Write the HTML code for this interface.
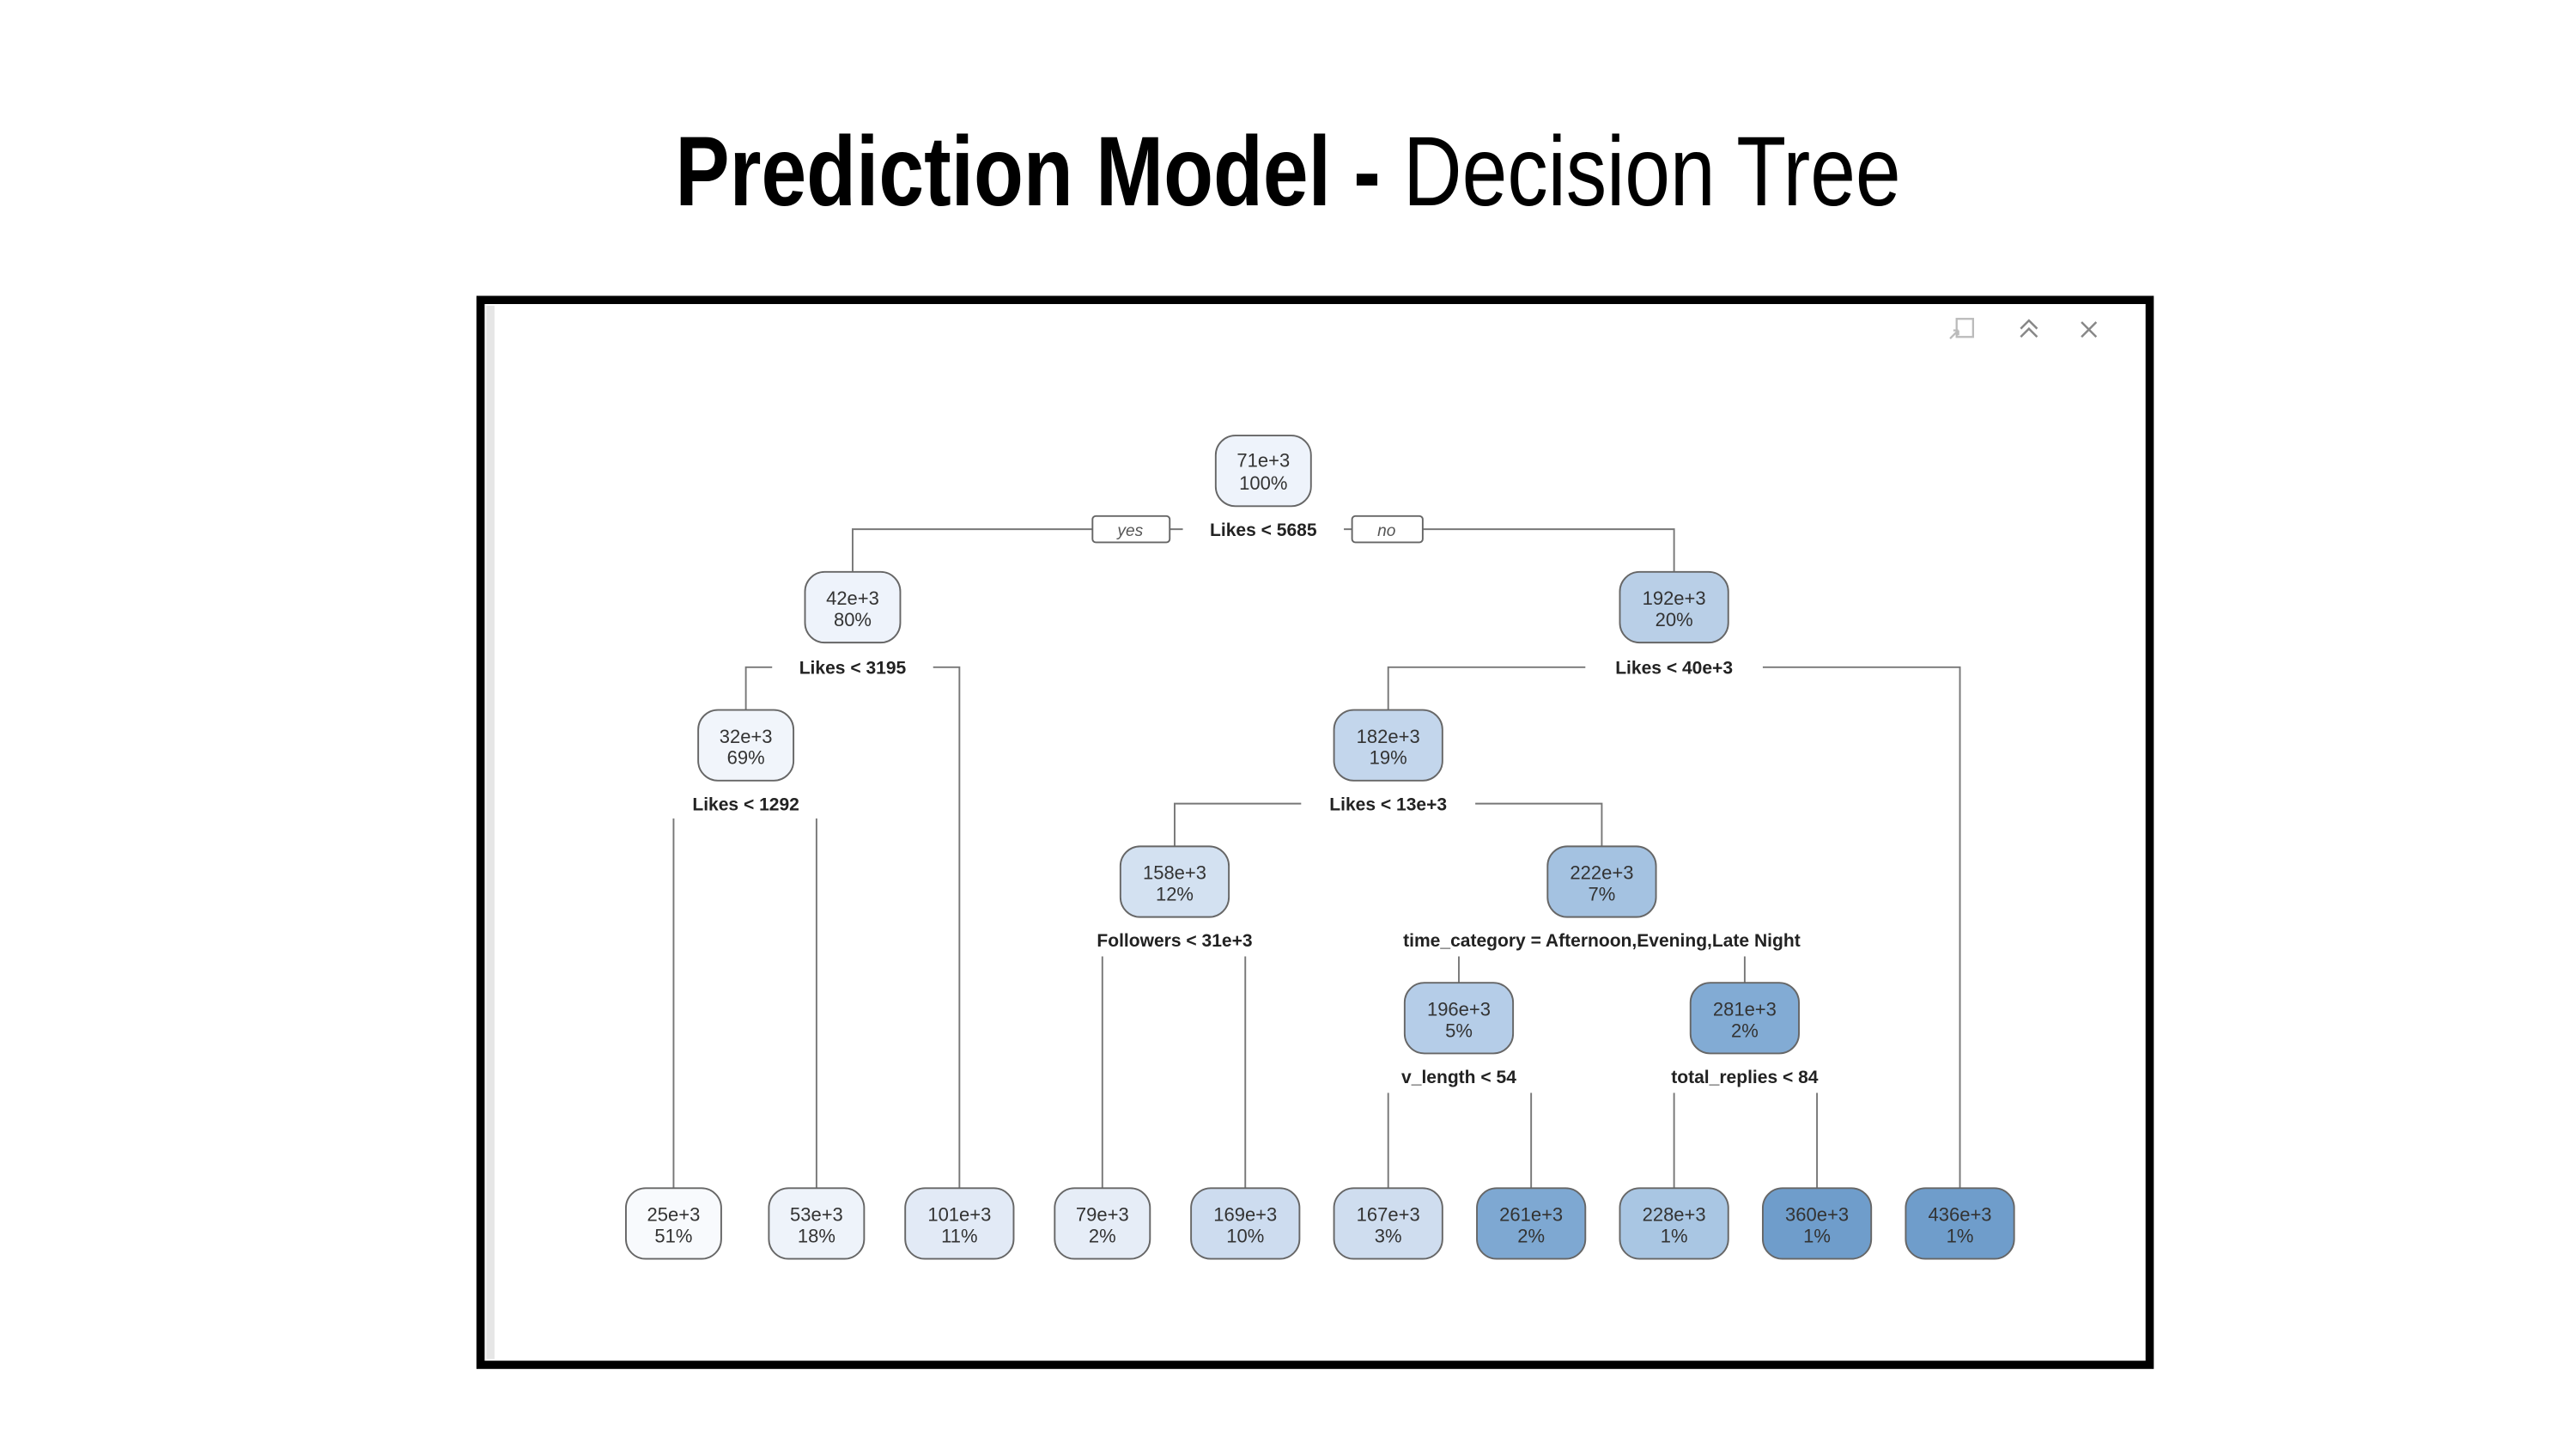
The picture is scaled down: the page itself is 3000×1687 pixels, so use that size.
<!DOCTYPE html>
<html><head><meta charset="utf-8"><style>
html,body{margin:0;padding:0;background:#fff;}
svg{display:block}
.t{font-family:"Liberation Sans Narrow","Liberation Sans",sans-serif;font-size:11.5px;fill:#333;text-anchor:middle}
.b{font-family:"Liberation Sans Narrow","Liberation Sans",sans-serif;font-size:11px;font-weight:bold;fill:#222;text-anchor:middle}
.n{stroke:#666;stroke-width:1}
.l{stroke:#777;stroke-width:1;fill:none}
</style></head><body>
<svg width="3000" height="1687" viewBox="0 0 1568 881.7" xmlns="http://www.w3.org/2000/svg">
<text x="784" y="125" style="font-family:'Liberation Sans Narrow','Liberation Sans',sans-serif;font-size:60px" text-anchor="middle" textLength="746" lengthAdjust="spacingAndGlyphs"><tspan font-weight="bold">Prediction Model - </tspan><tspan>Decision Tree</tspan></text>
<rect x="292.5" y="182.5" width="1016" height="648" fill="#fff" stroke="#000" stroke-width="5"/>
<rect x="296" y="186" width="5" height="641" fill="#e6e6e6"/>
<!-- icons -->
<g stroke="#bbb" fill="none" stroke-width="1.2"><rect x="1191" y="194" width="10" height="11"/><path d="M1187 206 l5 -5 M1192 201 h-3 M1192 201 v3"/></g>
<g stroke="#888" fill="none" stroke-width="1.3"><path d="M1230 200 l5-5 l5 5 M1230 205 l5-5 l5 5"/><path d="M1267 196 l9 9 M1276 196 l-9 9"/></g>
<!-- lines -->
<g class="l">
<path d="M665 322 H519 V348 M712 322 H720 M818 322 H823 M866 322 H1019 V348"/>
<path d="M470 406 H454 V432 M568 406 H584 V723"/>
<path d="M965 406 H845 V432 M1073 406 H1193 V723"/>
<path d="M410 498 V723 M497 498 V723"/>
<path d="M792 489 H715 V515 M898 489 H975 V515"/>
<path d="M671 582 V723 M758 582 V723"/>
<path d="M888 582 V598 M1062 582 V598"/>
<path d="M845 665 V723 M932 665 V723 M1019 665 V723 M1106 665 V723"/>
</g>
<rect x="665" y="314" width="47" height="16" rx="2" fill="#fff" stroke="#666"/>
<text x="688" y="326" class="t" style="font-style:italic;font-size:10px;fill:#555">yes</text>
<rect x="823" y="314" width="43" height="16" rx="2" fill="#fff" stroke="#666"/>
<text x="844" y="326" class="t" style="font-style:italic;font-size:10px;fill:#555">no</text>
<!-- nodes -->
<g class="n">
<rect x="740" y="265" width="58" height="43" rx="12" fill="#eef3fb"/>
<rect x="490" y="348" width="58" height="43" rx="12" fill="#eef3fb"/>
<rect x="986" y="348" width="66" height="43" rx="12" fill="#b9cfe7"/>
<rect x="425" y="432" width="58" height="43" rx="12" fill="#f1f5fb"/>
<rect x="812" y="432" width="66" height="43" rx="12" fill="#c3d6ec"/>
<rect x="682" y="515" width="66" height="43" rx="12" fill="#d3e1f1"/>
<rect x="942" y="515" width="66" height="43" rx="12" fill="#a4c2e1"/>
<rect x="855" y="598" width="66" height="43" rx="12" fill="#b5cde8"/>
<rect x="1029" y="598" width="66" height="43" rx="12" fill="#82abd4"/>
<rect x="381" y="723" width="58" height="43" rx="12" fill="#f8fafd"/>
<rect x="468" y="723" width="58" height="43" rx="12" fill="#eef3fa"/>
<rect x="551" y="723" width="66" height="43" rx="12" fill="#e2eaf6"/>
<rect x="642" y="723" width="58" height="43" rx="12" fill="#e6edf7"/>
<rect x="725" y="723" width="66" height="43" rx="12" fill="#cddcef"/>
<rect x="812" y="723" width="66" height="43" rx="12" fill="#cfddef"/>
<rect x="899" y="723" width="66" height="43" rx="12" fill="#7ea8d2"/>
<rect x="986" y="723" width="66" height="43" rx="12" fill="#a9c6e3"/>
<rect x="1073" y="723" width="66" height="43" rx="12" fill="#6f9dcb"/>
<rect x="1160" y="723" width="66" height="43" rx="12" fill="#6f9dcb"/>
</g>
<g class="t">
<text x="769" y="284">71e+3</text><text x="769" y="298">100%</text>
<text x="519" y="368">42e+3</text><text x="519" y="381">80%</text>
<text x="1019" y="368">192e+3</text><text x="1019" y="381">20%</text>
<text x="454" y="452">32e+3</text><text x="454" y="465">69%</text>
<text x="845" y="452">182e+3</text><text x="845" y="465">19%</text>
<text x="715" y="535">158e+3</text><text x="715" y="548">12%</text>
<text x="975" y="535">222e+3</text><text x="975" y="548">7%</text>
<text x="888" y="618">196e+3</text><text x="888" y="631">5%</text>
<text x="1062" y="618">281e+3</text><text x="1062" y="631">2%</text>
<text x="410" y="743">25e+3</text><text x="410" y="756">51%</text>
<text x="497" y="743">53e+3</text><text x="497" y="756">18%</text>
<text x="584" y="743">101e+3</text><text x="584" y="756">11%</text>
<text x="671" y="743">79e+3</text><text x="671" y="756">2%</text>
<text x="758" y="743">169e+3</text><text x="758" y="756">10%</text>
<text x="845" y="743">167e+3</text><text x="845" y="756">3%</text>
<text x="932" y="743">261e+3</text><text x="932" y="756">2%</text>
<text x="1019" y="743">228e+3</text><text x="1019" y="756">1%</text>
<text x="1106" y="743">360e+3</text><text x="1106" y="756">1%</text>
<text x="1193" y="743">436e+3</text><text x="1193" y="756">1%</text>
</g>
<g class="b">
<text x="769" y="326">Likes &lt; 5685</text>
<text x="519" y="410">Likes &lt; 3195</text>
<text x="1019" y="410">Likes &lt; 40e+3</text>
<text x="454" y="493">Likes &lt; 1292</text>
<text x="845" y="493">Likes &lt; 13e+3</text>
<text x="715" y="576">Followers &lt; 31e+3</text>
<text x="975" y="576">time_category = Afternoon,Evening,Late Night</text>
<text x="888" y="659">v_length &lt; 54</text>
<text x="1062" y="659">total_replies &lt; 84</text>
</g>
</svg>
</body></html>
